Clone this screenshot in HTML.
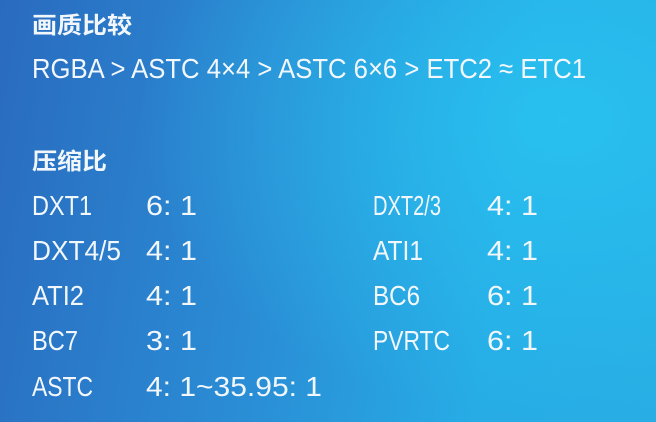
<!DOCTYPE html>
<html><head><meta charset="utf-8">
<style>
html,body{margin:0;padding:0;width:656px;height:422px;overflow:hidden}
body{background:
 radial-gradient(ellipse 420px 300px at 560px 120px, rgba(40,195,240,0.85), rgba(40,195,240,0) 100%),
 linear-gradient(100deg,#2a6bbf 0%,#2a8fd6 45%,#27ace6 75%,#28aee4 100%);}
svg{position:absolute;left:0;top:0}
text{fill:#f2f7fc;font-family:"Liberation Sans","Noto Sans CJK SC",sans-serif}
.h{font-weight:bold;font-size:23px;font-family:"Noto Sans CJK SC","Liberation Sans",sans-serif}
.t{font-size:28px}
</style></head>
<body>
<svg width="656" height="422">
<text class="h" x="32" y="33" textLength="100" lengthAdjust="spacingAndGlyphs">画质比较</text>
<text class="t" x="32" y="78" font-size="27" textLength="554" lengthAdjust="spacingAndGlyphs">RGBA &gt; ASTC 4×4 &gt; ASTC 6×6 &gt; ETC2 ≈ ETC1</text>
<text class="h" x="32" y="169" textLength="75" lengthAdjust="spacingAndGlyphs">压缩比</text>

<text class="t" x="32" y="215" textLength="60" lengthAdjust="spacingAndGlyphs">DXT1</text>
<text class="t" x="146" y="215" textLength="51" lengthAdjust="spacingAndGlyphs">6:  1</text>
<text class="t" x="373" y="215" textLength="68" lengthAdjust="spacingAndGlyphs">DXT2/3</text>
<text class="t" x="487" y="215" textLength="51" lengthAdjust="spacingAndGlyphs">4:  1</text>

<text class="t" x="32" y="260" textLength="89" lengthAdjust="spacingAndGlyphs">DXT4/5</text>
<text class="t" x="146" y="260" textLength="51" lengthAdjust="spacingAndGlyphs">4:  1</text>
<text class="t" x="373" y="260" textLength="50" lengthAdjust="spacingAndGlyphs">ATI1</text>
<text class="t" x="487" y="260" textLength="51" lengthAdjust="spacingAndGlyphs">4:  1</text>

<text class="t" x="32" y="305" textLength="52" lengthAdjust="spacingAndGlyphs">ATI2</text>
<text class="t" x="146" y="305" textLength="51" lengthAdjust="spacingAndGlyphs">4:  1</text>
<text class="t" x="373" y="305" textLength="47" lengthAdjust="spacingAndGlyphs">BC6</text>
<text class="t" x="487" y="305" textLength="51" lengthAdjust="spacingAndGlyphs">6:  1</text>

<text class="t" x="32" y="350" textLength="46" lengthAdjust="spacingAndGlyphs">BC7</text>
<text class="t" x="146" y="350" textLength="51" lengthAdjust="spacingAndGlyphs">3:  1</text>
<text class="t" x="373" y="350" textLength="77" lengthAdjust="spacingAndGlyphs">PVRTC</text>
<text class="t" x="487" y="350" textLength="51" lengthAdjust="spacingAndGlyphs">6:  1</text>

<text class="t" x="32" y="396" textLength="61" lengthAdjust="spacingAndGlyphs">ASTC</text>
<text class="t" x="146" y="396" textLength="176" lengthAdjust="spacingAndGlyphs">4:  1~35.95:  1</text>
</svg>
</body></html>
